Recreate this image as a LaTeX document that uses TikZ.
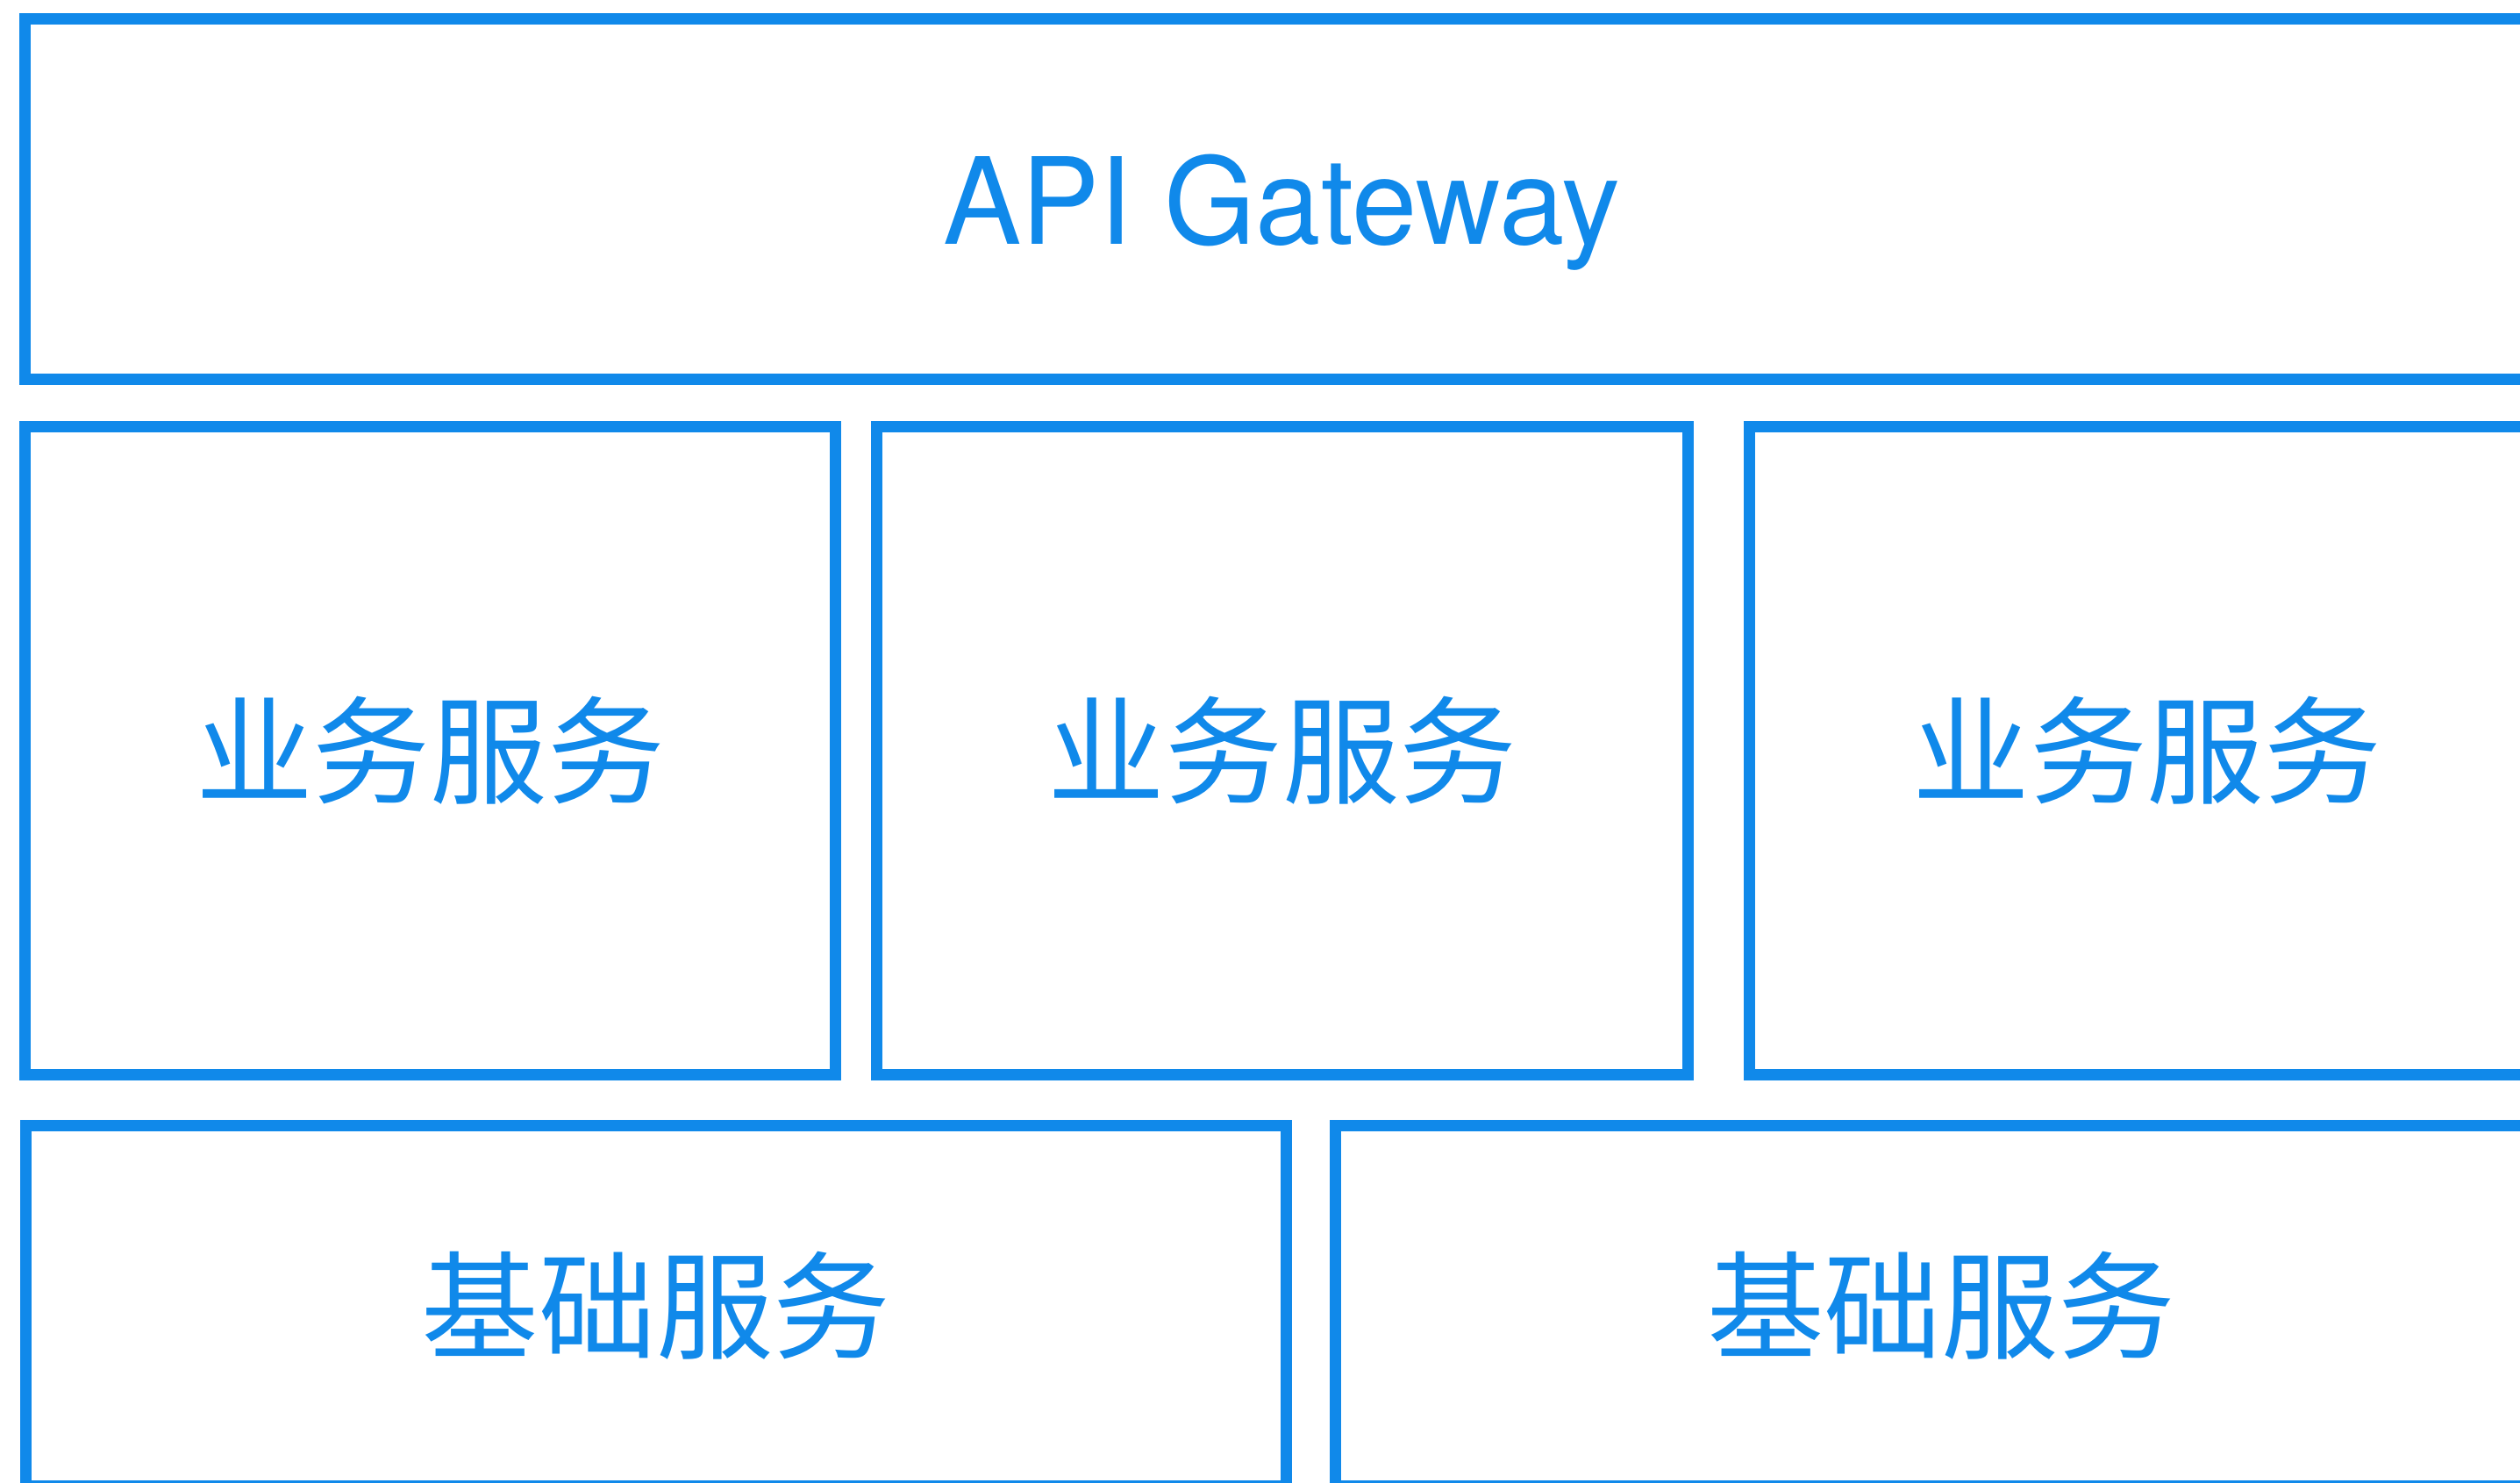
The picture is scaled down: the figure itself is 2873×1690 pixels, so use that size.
\documentclass[tikz,border=0pt]{standalone}
\usepackage{fontspec}
\usepackage{graphicx}
\setmainfont{TeX Gyre Heros}
\newfontfamily\cjk{Noto Sans CJK SC}
\definecolor{tierblue}{RGB}{16,137,234}
\begin{document}
\begin{tikzpicture}[x=0.01cm, y=-0.01cm,
  tier/.style={draw=tierblue, line width=0.13cm, inner sep=0pt, outer sep=0pt,
    text=tierblue, anchor=center},
  latinlabel/.style={text=tierblue, inner sep=0pt,
    font=\fontsize{39pt}{39pt}\selectfont},
  cjklabel/.style={font=\cjk\fontsize{38pt}{38pt}\selectfont}]
  \useasboundingbox (0,0) rectangle (2873,1690);
  \clip (0,0) rectangle (2873,1690);

  % gateway layer (runs past the right edge)
  \node[tier, minimum width=28.68cm, minimum height=4.105cm]
    (gateway) at (1463,226.75) {};
  \node[latinlabel] (gatewaytext) at (1461,242) {\scalebox{0.975}[1]{API Gateway}};

  % business services
  \node[tier, minimum width=9.242cm, minimum height=7.38cm, cjklabel]
    (biz1) at (490.6,856) {业务服务};
  \node[tier, minimum width=9.24cm, minimum height=7.38cm, cjklabel]
    (biz2) at (1462,856) {业务服务};
  \node[tier, minimum width=9.05cm, minimum height=7.38cm, cjklabel]
    (biz3) at (2447.6,856) {业务服务};

  % base services
  \node[tier, minimum width=14.36cm, minimum height=4.107cm, cjklabel]
    (base1) at (748,1488.6) {基础服务};
  \node[tier, minimum width=13.81cm, minimum height=4.107cm, cjklabel]
    (base2) at (2213.3,1488.6) {基础服务};
\end{tikzpicture}
\end{document}
